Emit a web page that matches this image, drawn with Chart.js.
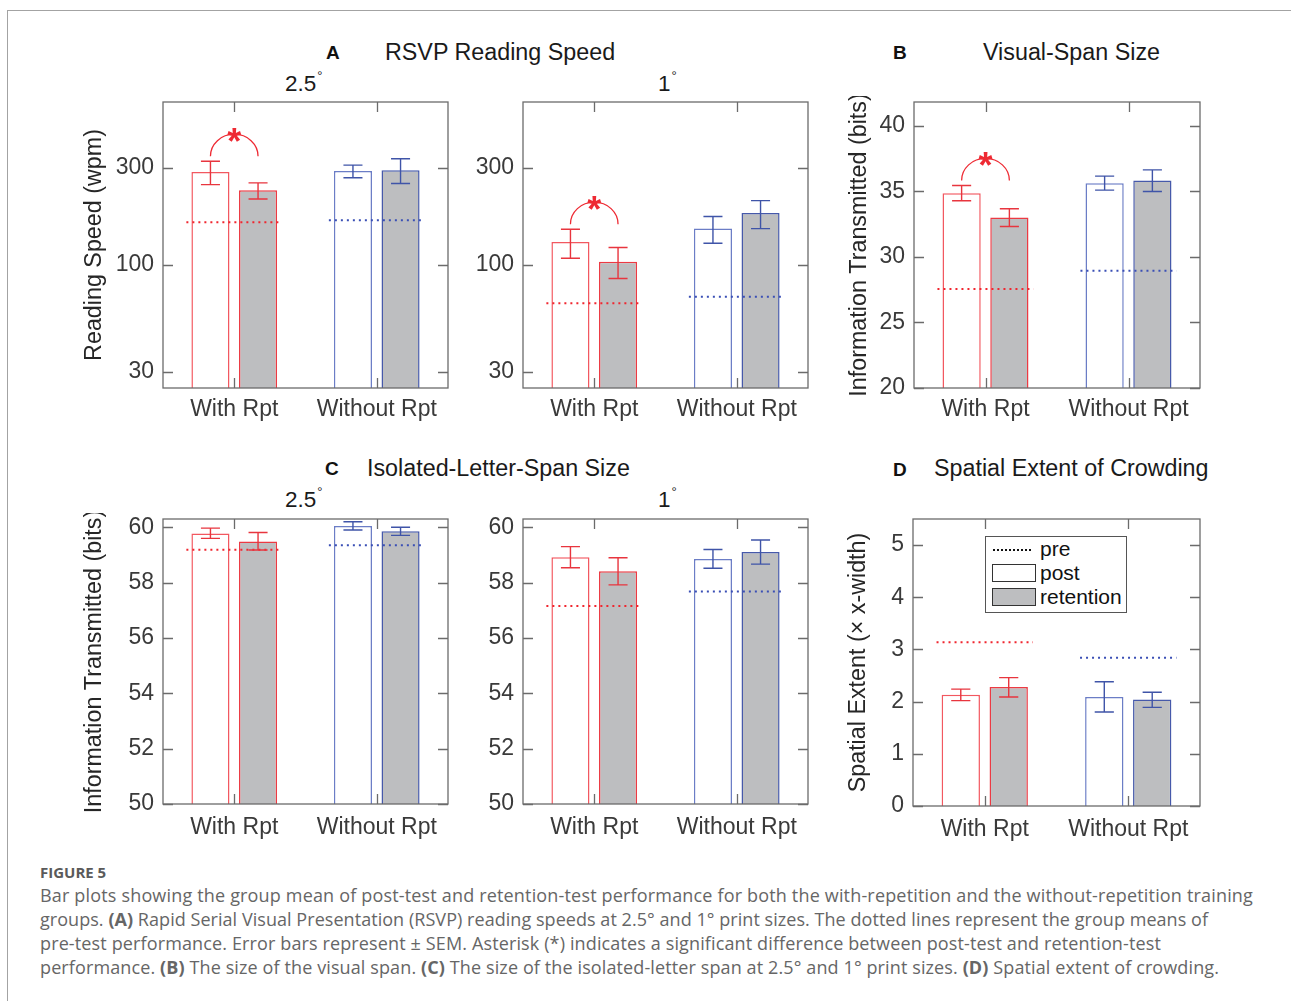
<!DOCTYPE html>
<html><head><meta charset="utf-8">
<script src="https://cdn.jsdelivr.net/npm/chart.js@4.4.1/dist/chart.umd.min.js"></script>
<style>
html,body{margin:0;padding:0;background:#fff;}
body{width:1291px;height:1001px;position:relative;overflow:hidden;font-family:"Liberation Sans",Arial,sans-serif;}
.frame-top{position:absolute;left:7px;top:10px;width:1284px;height:0;border-top:1px solid #a3a3a3;}
.frame-left{position:absolute;left:7px;top:10px;width:0;height:991px;border-left:1px solid #a3a3a3;}
.txt{position:absolute;white-space:nowrap;}
.cv{position:absolute;}
.cap{position:absolute;left:40px;font-family:"Open Sans",Lato,sans-serif;color:#666;font-size:18px;white-space:nowrap;line-height:24px;}
.caphead{position:absolute;left:40px;top:863px;font-family:"Open Sans",Lato,sans-serif;color:#5a5a5a;font-size:15px;font-weight:bold;line-height:18px;}
.ring{font-size:13px;position:relative;top:-11px;margin-left:1px;}
.legend{position:absolute;left:985px;top:536px;width:142px;height:77px;border:1.3px solid #555;background:#fff;box-sizing:border-box;}
.legend .sw{position:absolute;left:6px;width:44px;height:18px;border:1.3px solid #333;box-sizing:border-box;}
.legend .dots{position:absolute;left:7px;top:12px;width:38px;height:0;border-top:2px dotted #111;}
.legend .lt{position:absolute;left:54px;font-size:21px;line-height:21px;color:#111;}
</style></head>
<body>
<div class="frame-top"></div>
<div class="frame-left"></div>
<div id="texts"></div>
<div class="legend">
  <div class="dots"></div><div class="lt" style="top:1px">pre</div>
  <div class="sw" style="top:27px;background:#fff"></div><div class="lt" style="top:25px">post</div>
  <div class="sw" style="top:51px;background:#bdbec0"></div><div class="lt" style="top:49px">retention</div>
</div>
<div class="caphead">FIGURE 5</div>
<div class="cap" data-end="1253" style="top:883px">Bar plots showing the group mean of post-test and retention-test performance for both the with-repetition and the without-repetition training</div>
<div class="cap" data-end="1208" style="top:907px">groups. <b>(A)</b> Rapid Serial Visual Presentation (RSVP) reading speeds at 2.5° and 1° print sizes. The dotted lines represent the group means of</div>
<div class="cap" data-end="1161" style="top:931px">pre-test performance. Error bars represent ± SEM. Asterisk (*) indicates a significant difference between post-test and retention-test</div>
<div class="cap" data-end="1219" style="top:955px">performance. <b>(B)</b> The size of the visual span. <b>(C)</b> The size of the isolated-letter span at 2.5° and 1° print sizes. <b>(D)</b> Spatial extent of crowding.</div>
<script>
// ---------------- data ----------------
const categories = ['With Rpt', 'Without Rpt'];

const rsvpTicks = [30, 100, 300];
const visualTicks = [20, 25, 30, 35, 40];
const letterTicks = [50, 52, 54, 56, 58, 60];
const crowdTicks = [0, 1, 2, 3, 4, 5];

// A: RSVP reading speed, 2.5 deg (wpm)
const rsvpLargePost = [286, 289];
const rsvpLargePostErr = [[248, 323], [268, 309]];
const rsvpLargeRet = [233, 292];
const rsvpLargeRetErr = [[211, 253], [251, 332]];
const rsvpLargePre = [162, 166];
const rsvpLargeSig = [true, false];

// A: RSVP reading speed, 1 deg (wpm)
const rsvpSmallPost = [130, 151];
const rsvpSmallPostErr = [[108, 150], [128, 173]];
const rsvpSmallRet = [104, 180];
const rsvpSmallRetErr = [[86, 122], [151, 207]];
const rsvpSmallPre = [65, 70];
const rsvpSmallSig = [true, false];

// B: visual-span size (bits)
const visualPost = [34.85, 35.61];
const visualPostErr = [[34.27, 35.44], [35.08, 36.15]];
const visualRet = [33.0, 35.81];
const visualRetErr = [[32.31, 33.66], [34.98, 36.63]];
const visualPre = [27.54, 28.93];
const visualSig = [true, false];

// C: isolated-letter-span size, 2.5 deg (bits)
const letterLargePost = [59.78, 60.05];
const letterLargePostErr = [[59.60, 59.97], [59.90, 60.20]];
const letterLargeRet = [59.49, 59.86];
const letterLargeRetErr = [[59.18, 59.81], [59.71, 60.00]];
const letterLargePre = [59.19, 59.35];

// C: isolated-letter-span size, 1 deg (bits)
const letterSmallPost = [58.92, 58.85];
const letterSmallPostErr = [[58.54, 59.30], [58.52, 59.20]];
const letterSmallRet = [58.41, 59.11];
const letterSmallRetErr = [[57.92, 58.90], [58.67, 59.54]];
const letterSmallPre = [57.16, 57.68];

// D: spatial extent of crowding (x-width)
const crowdPost = [2.13, 2.09];
const crowdPostErr = [[2.02, 2.24], [1.80, 2.38]];
const crowdRet = [2.28, 2.04];
const crowdRetErr = [[2.09, 2.46], [1.89, 2.18]];
const crowdPre = [3.14, 2.84];

// ---------------- styles ----------------
const FONT = '"Liberation Sans", Arial, sans-serif';
const TICK_COLOR = '#3a3a3a';
const TITLE_COLOR = '#262626';
const AXIS_COLOR = '#6b6b6b';
const GRAY = '#bdbec0';
const POST_EDGE = ['#f25860', '#6b7dc6'];
const RET_EDGE = ['#ec3a43', '#4659aa'];
const ERR_COLOR = ['#e8353e', '#3f54a8'];
const PRE_COLOR = ['#f0262f', '#3a4fb5'];
const SIG_COLOR = '#ee2a33';
const PRE_HALF = 0.336;   // half length of the dotted pre line, in category widths
const L = 82, T = 6, R = 6;

// ---------------- text overlay ----------------
function addText(html, left, baseline, size, opts = {}) {
  const d = document.createElement('div');
  d.className = 'txt';
  d.innerHTML = html;
  d.style.fontSize = size + 'px';
  d.style.lineHeight = size + 'px';
  d.style.left = left + 'px';
  d.style.top = (baseline - 0.8465 * size) + 'px';
  d.style.color = opts.color || '#1a1a1a';
  if (opts.bold) d.style.fontWeight = 'bold';
  document.getElementById('texts').appendChild(d);
}
addText('A', 326, 59.5, 19, {bold: true, color: '#111'});
addText('RSVP Reading Speed', 385, 61, 23.3);
addText('2.5<span class="ring">°</span>', 285, 92, 22.5);
addText('1<span class="ring">°</span>', 658, 92, 22.5);
addText('B', 893, 59.5, 19, {bold: true, color: '#111'});
addText('Visual-Span Size', 983, 61, 23.3);
addText('C', 325, 475.5, 19, {bold: true, color: '#111'});
addText('Isolated-Letter-Span Size', 367, 476.5, 23.3);
addText('2.5<span class="ring">°</span>', 285, 508.5, 22.5);
addText('1<span class="ring">°</span>', 658, 508, 22.5);
addText('D', 893, 475.7, 19, {bold: true, color: '#111'});
addText('Spatial Extent of Crowding', 934, 477, 23.3);

// fit caption lines to their measured right ends
document.querySelectorAll('.cap').forEach(el => {
  const target = +el.dataset.end - 40;
  const w = el.getBoundingClientRect().width;
  const n = el.textContent.length;
  el.style.letterSpacing = ((target - w) / n) + 'px';
});

// ---------------- plugin: pre lines, error bars, significance, MATLAB-style box ----------------
const matlabAxes = {
  id: 'matlabAxes',
  afterDatasetsDraw(chart, args, opts) {
    const {ctx, chartArea: a, scales} = chart;
    const ys = scales.y, xs = scales.x;
    const catW = xs.getPixelForValue(1) - xs.getPixelForValue(0);
    ctx.save();
    // dotted pre-test lines
    (opts.pre || []).forEach((v, i) => {
      const cx = xs.getPixelForValue(i);
      const y = ys.getPixelForValue(v);
      ctx.strokeStyle = PRE_COLOR[i];
      ctx.lineWidth = 2;
      ctx.setLineDash([2, 4]);
      ctx.beginPath();
      ctx.moveTo(cx - PRE_HALF * catW, y);
      ctx.lineTo(cx + PRE_HALF * catW, y);
      ctx.stroke();
    });
    ctx.setLineDash([]);
    // error bars
    const barMeta = {};
    chart.data.datasets.forEach((ds, di) => {
      if (!ds.errorBars) return;
      const meta = chart.getDatasetMeta(di);
      barMeta[ds.label] = {meta, ds};
      meta.data.forEach((el, i) => {
        const lo = ys.getPixelForValue(ds.errorBars[i][0]);
        const hi = ys.getPixelForValue(ds.errorBars[i][1]);
        const cw = el.width / 4;
        ctx.strokeStyle = ERR_COLOR[i];
        ctx.lineWidth = 1.4;
        ctx.beginPath();
        ctx.moveTo(el.x, lo); ctx.lineTo(el.x, hi);
        ctx.moveTo(el.x - cw, lo); ctx.lineTo(el.x + cw, lo);
        ctx.moveTo(el.x - cw, hi); ctx.lineTo(el.x + cw, hi);
        ctx.stroke();
      });
    });
    // significance arcs
    (opts.sig || []).forEach((s, i) => {
      if (!s) return;
      const p = barMeta.post, r = barMeta.retention;
      const x0 = p.meta.data[i].x, x1 = r.meta.data[i].x;
      const y0 = Math.min(ys.getPixelForValue(p.ds.errorBars[i][1]), ys.getPixelForValue(r.ds.errorBars[i][1])) - 5;
      const cx = (x0 + x1) / 2, rx = (x1 - x0) / 2, ry = 22;
      ctx.strokeStyle = SIG_COLOR;
      ctx.lineWidth = 1.3;
      ctx.beginPath();
      ctx.ellipse(cx, y0, rx, ry, 0, Math.PI, 2 * Math.PI);
      ctx.stroke();
      ctx.fillStyle = SIG_COLOR;
      ctx.font = 'bold 36px ' + FONT;
      ctx.textAlign = 'center';
      ctx.textBaseline = 'alphabetic';
      ctx.fillText('*', cx, y0 - ry + 20);
    });
    // box
    ctx.strokeStyle = AXIS_COLOR;
    ctx.lineWidth = 1.3;
    ctx.strokeRect(a.left, a.top, a.right - a.left, a.bottom - a.top);
    // inward ticks
    const tl = 10;
    ctx.beginPath();
    ys.ticks.forEach(t => {
      const y = Math.round(ys.getPixelForValue(t.value)) + 0.5;
      ctx.moveTo(a.left, y); ctx.lineTo(a.left + tl, y);
      ctx.moveTo(a.right, y); ctx.lineTo(a.right - tl, y);
    });
    xs.ticks.forEach((t, i) => {
      const x = Math.round(xs.getPixelForValue(i)) + 0.5;
      ctx.moveTo(x, a.bottom); ctx.lineTo(x, a.bottom - tl);
      ctx.moveTo(x, a.top); ctx.lineTo(x, a.top + tl);
    });
    ctx.stroke();
    ctx.restore();
  }
};
Chart.register(matlabAxes);

// ---------------- panel factory ----------------
function makePanel(spec) {
  const {x, y, w, h} = spec.box;
  const B = spec.bottomSpace;
  const cv = document.createElement('canvas');
  cv.width = L + w + R;
  cv.height = T + h + B;
  cv.className = 'cv';
  cv.style.left = (x - L) + 'px';
  cv.style.top = (y - T) + 'px';
  document.body.appendChild(cv);

  const barCommon = {
    base: spec.yMin, borderWidth: 1.5,
    categoryPercentage: 0.668, barPercentage: 0.8
  };

  new Chart(cv, {
    type: 'bar',
    data: {
      labels: categories,
      datasets: [
        Object.assign({label: 'post', data: spec.post, backgroundColor: '#ffffff',
          borderColor: POST_EDGE, errorBars: spec.postErr}, barCommon),
        Object.assign({label: 'retention', data: spec.ret, backgroundColor: GRAY,
          borderColor: RET_EDGE, errorBars: spec.retErr}, barCommon)
      ]
    },
    options: {
      responsive: false,
      animation: false,
      devicePixelRatio: 1,
      layout: {padding: {top: T, right: R, left: 0, bottom: 0}},
      plugins: {
        legend: {display: false},
        tooltip: {enabled: false},
        matlabAxes: {sig: spec.sig, pre: spec.pre}
      },
      scales: {
        x: {
          type: 'category', offset: true,
          grid: {display: false, drawTicks: false},
          border: {display: false},
          ticks: {font: {family: FONT, size: 23}, color: TICK_COLOR, padding: spec.xPad,
                  maxRotation: 0, autoSkip: false},
          afterFit: s => { s.height = B; }
        },
        y: {
          type: spec.yType, min: spec.yMin, max: spec.yMax, bounds: 'data',
          grid: {display: false, drawTicks: false},
          border: {display: false},
          ticks: {font: {family: FONT, size: 23}, color: TICK_COLOR, padding: 9,
                  callback: v => String(v)},
          afterBuildTicks: s => { s.ticks = spec.ticks.map(v => ({value: v})); },
          afterFit: s => { s.width = L; s.paddingTop = 0; s.paddingBottom = 0; },
          title: {display: !!spec.yTitle, text: spec.yTitle || '',
                  font: {family: FONT, size: 23.3}, color: TITLE_COLOR,
                  padding: {top: spec.titleShift || 0, bottom: 0}}
        }
      }
    }
  });
}

makePanel({box: {x: 163, y: 102, w: 285, h: 286}, bottomSpace: 50, xPad: 8,
  yType: 'logarithmic', yMin: 25, yMax: 630, ticks: rsvpTicks,
  post: rsvpLargePost, postErr: rsvpLargePostErr, ret: rsvpLargeRet, retErr: rsvpLargeRetErr,
  pre: rsvpLargePre, sig: rsvpLargeSig, yTitle: 'Reading Speed (wpm)', titleShift: 0});
makePanel({box: {x: 523, y: 102, w: 285, h: 286}, bottomSpace: 50, xPad: 8,
  yType: 'logarithmic', yMin: 25, yMax: 630, ticks: rsvpTicks,
  post: rsvpSmallPost, postErr: rsvpSmallPostErr, ret: rsvpSmallRet, retErr: rsvpSmallRetErr,
  pre: rsvpSmallPre, sig: rsvpSmallSig});
makePanel({box: {x: 914, y: 102, w: 286, h: 286}, bottomSpace: 50, xPad: 8,
  yType: 'linear', yMin: 20, yMax: 41.8, ticks: visualTicks,
  post: visualPost, postErr: visualPostErr, ret: visualRet, retErr: visualRetErr,
  pre: visualPre, sig: visualSig, yTitle: 'Information Transmitted (bits)', titleShift: 14});
makePanel({box: {x: 163, y: 519, w: 285, h: 285}, bottomSpace: 50, xPad: 10,
  yType: 'linear', yMin: 50, yMax: 60.3, ticks: letterTicks,
  post: letterLargePost, postErr: letterLargePostErr, ret: letterLargeRet, retErr: letterLargeRetErr,
  pre: letterLargePre, sig: [], yTitle: 'Information Transmitted (bits)', titleShift: 0});
makePanel({box: {x: 523, y: 519, w: 285, h: 285}, bottomSpace: 50, xPad: 10,
  yType: 'linear', yMin: 50, yMax: 60.3, ticks: letterTicks,
  post: letterSmallPost, postErr: letterSmallPostErr, ret: letterSmallRet, retErr: letterSmallRetErr,
  pre: letterSmallPre, sig: []});
makePanel({box: {x: 913, y: 519, w: 287, h: 287}, bottomSpace: 50, xPad: 10,
  yType: 'linear', yMin: 0, yMax: 5.5, ticks: crowdTicks,
  post: crowdPost, postErr: crowdPostErr, ret: crowdRet, retErr: crowdRetErr,
  pre: crowdPre, sig: [], yTitle: 'Spatial Extent (× x-width)', titleShift: 14});

// keep legend above the canvas
document.body.appendChild(document.querySelector('.legend'));
</script>
</body></html>
